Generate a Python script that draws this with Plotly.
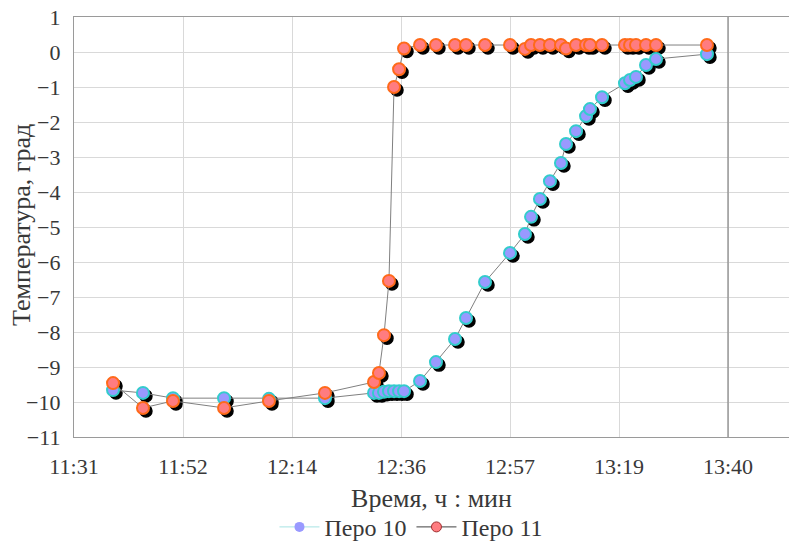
import plotly.graph_objects as go
import pandas as pd

# ---- data ----
times = ["11:38:56", "11:44:52", "11:50:49", "12:00:56", "12:09:50", "12:20:56",
         "12:30:39", "12:31:38", "12:32:38", "12:33:37", "12:34:37", "12:35:37",
         "12:36:36", "12:39:46", "12:42:56", "12:46:42", "12:48:53", "12:52:39",
         "12:57:36", "13:00:34", "13:01:46", "13:03:32", "13:05:31", "13:07:42",
         "13:08:42", "13:10:41", "13:12:40", "13:13:27", "13:15:50", "13:20:23",
         "13:21:23", "13:22:34", "13:24:33", "13:26:32", "13:36:38"]
pero10 = [-9.66, -9.74, -9.89, -9.89, -9.91, -9.89, -9.74, -9.74, -9.71, -9.69,
          -9.69, -9.69, -9.69, -9.40, -8.86, -8.20, -7.60, -6.57, -5.74, -5.20,
          -4.71, -4.20, -3.69, -3.17, -2.63, -2.26, -1.83, -1.63, -1.29, -0.89,
          -0.80, -0.71, -0.37, -0.20, -0.06]
pero11 = [-9.46, -10.17, -9.97, -10.17, -9.97, -9.74, -9.43, -9.17, -8.09, -6.54,
          -1.00, -0.49, 0.10, 0.20, 0.20, 0.20, 0.20, 0.20, 0.20, 0.09,
          0.20, 0.20, 0.20, 0.20, 0.10, 0.20, 0.20, 0.20, 0.20, 0.20,
          0.20, 0.20, 0.20, 0.20, 0.20]
y_ticks = list(range(-11, 2))
series_names = ["Перо 10", "Перо 11"]
x_title = "Время, ч : мин"
y_title = "Температура, град"

day = "2000-01-01 "
x = pd.to_datetime([day + t for t in times])

# axis geometry
W, H = 789, 545
ML, MR, MT, MB = 74, 0, 17, 108
x0 = pd.Timestamp(day + "11:31:12")
dtick_min = 21.6
tick_px = 109.0
plot_w = W - ML - MR
x1 = x0 + pd.Timedelta(minutes=plot_w / tick_px * dtick_min)
y0, y1 = -11, 1
plot_h = H - MT - MB

# shadow offsets (3 px) converted to axis units
sh_px = 3
dx = pd.Timedelta(minutes=sh_px / tick_px * dtick_min)
dy = -sh_px * (y1 - y0) / plot_h

fill10, edge10 = "#9999ff", "#33cccc"
fill11, edge11 = "#ff7c80", "#ff6a1a"
msize = 12
txt = "#383838"

fig = go.Figure()
for vals in (pero10, pero11):
    fig.add_trace(go.Scatter(x=x + dx, y=[v + dy for v in vals], mode="markers",
                             marker=dict(size=msize, color="black",
                                         line=dict(width=1.5, color="black")),
                             showlegend=False, hoverinfo="skip"))
fig.add_trace(go.Scatter(x=x, y=pero10, mode="lines+markers", showlegend=False,
                         line=dict(color="#808080", width=1),
                         marker=dict(size=msize, color=fill10,
                                     line=dict(width=2, color=edge10))))
fig.add_trace(go.Scatter(x=x, y=pero11, mode="lines+markers", showlegend=False,
                         line=dict(color="#808080", width=1),
                         marker=dict(size=msize, color=fill11,
                                     line=dict(width=2, color=edge11))))
# legend entries
fig.add_trace(go.Scatter(x=[None], y=[None], mode="lines+markers", name=series_names[0],
                         line=dict(color="#a6e3e3", width=1),
                         marker=dict(size=10, color=fill10, line=dict(width=0))))
fig.add_trace(go.Scatter(x=[None], y=[None], mode="lines+markers", name=series_names[1],
                         line=dict(color="#404040", width=1),
                         marker=dict(size=10, color=fill11, line=dict(width=1, color="#a03030"))))

fig.add_shape(type="line", xref="x", yref="paper",
              x0=x0 + pd.Timedelta(minutes=6 * dtick_min),
              x1=x0 + pd.Timedelta(minutes=6 * dtick_min),
              y0=0, y1=1, line=dict(color="#8c8c8c", width=1.3))

font = "Liberation Serif"
fig.add_annotation(text=y_title, xref="paper", yref="paper",
                   x=-52 / plot_w, y=0.505, xanchor="center", yanchor="middle",
                   textangle=-90, showarrow=False,
                   font=dict(family=font, size=26, color=txt))

fig.update_layout(
    width=W, height=H,
    margin=dict(l=ML, r=MR, t=MT, b=MB, autoexpand=False),
    paper_bgcolor="white", plot_bgcolor="white",
    font=dict(family=font, size=20, color=txt),
    legend=dict(orientation="h", x=0.472, xanchor="center", y=-0.215,
                yanchor="middle",
                font=dict(family=font, size=24, color=txt), itemwidth=40,
                bgcolor="rgba(0,0,0,0)"),
    xaxis=dict(type="date", range=[x0, x1], tick0=x0, dtick=dtick_min * 60000,
               tickformat="%H:%M", showgrid=True, gridcolor="#d9d9d9", gridwidth=1,
               showline=True, linecolor="#9a9a9a", linewidth=1.3, mirror=True,
               ticks="outside", ticklen=9, tickcolor="rgba(0,0,0,0)",
               tickfont=dict(family=font, size=22, color=txt),
               title=dict(text=x_title, font=dict(family=font, size=26, color=txt),
                          standoff=11),
               zeroline=False, automargin=False),
    yaxis=dict(range=[y0, y1 + 0.001], tickmode="array", tickvals=y_ticks,
               showgrid=True, gridcolor="#d9d9d9", gridwidth=1,
               showline=True, linecolor="#9a9a9a", linewidth=1.3,
               ticks="outside", ticklen=8, tickcolor="rgba(0,0,0,0)",
               tickfont=dict(family=font, size=22, color=txt),
               ticklabeloverflow="allow",
               zeroline=False, automargin=False),
)
fig.write_html("out.html", config={"displayModeBar": False},
               post_script="document.body.style.margin='0px';document.body.style.overflow='hidden';")
